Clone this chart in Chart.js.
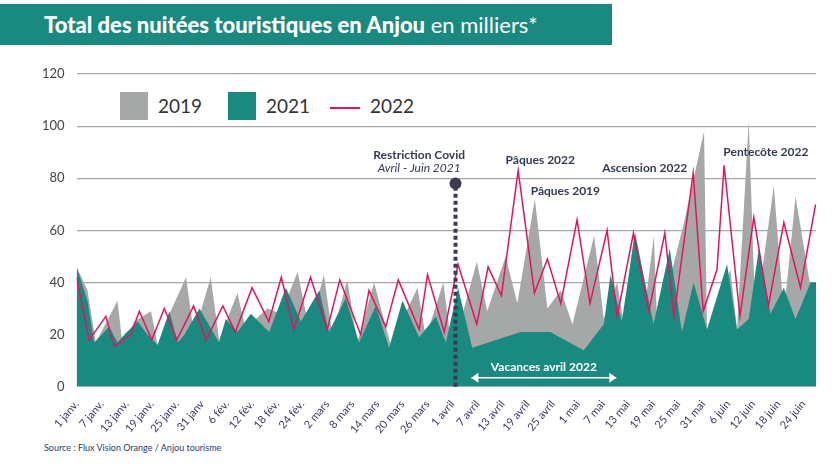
<!DOCTYPE html>
<html>
<head>
<meta charset="utf-8">
<script src="https://cdn.jsdelivr.net/npm/chart.js@4.4.1/dist/chart.umd.min.js"></script>
<style>
  body { margin: 0; width: 834px; height: 467px; background: #fff; font-family: Lato, sans-serif; overflow: hidden; position: relative; }
  #title { position: absolute; left: 0; top: 4px; width: 612px; height: 41px; background: #1a8a80; color: #fff; font-size: 22px; line-height: 41px; padding-left: 44px; box-sizing: border-box; }
  #title b { font-weight: 900; }
  #source { position: absolute; left: 44px; top: 442px; font-size: 9px; color: #2d3a6a; }
  #legend { position: absolute; left: 120px; top: 92px; font-size: 19px; color: #333; }
  .item { position: absolute; top: 0; white-space: nowrap; line-height: 28px; }
  .sw { display: inline-block; width: 28px; height: 28px; vertical-align: top; margin-right: 10px; }
  .ln { display: inline-block; width: 30px; height: 2px; background: #e5135e; vertical-align: middle; margin-right: 10px; }
  canvas { position: absolute; left: 0; top: 0; }
</style>
</head>
<body>
<div id="title"><b>Total des nuitées touristiques en Anjou</b> en milliers*</div>
<div id="legend">
  <div class="item" style="left:0"><span class="sw" style="background:#a6a8a8"></span>2019</div>
  <div class="item" style="left:108px"><span class="sw" style="background:#1a8a80"></span>2021</div>
  <div class="item" style="left:210px"><span class="ln"></span>2022</div>
</div>
<div id="source">Source : Flux Vision Orange / Anjou tourisme</div>
<canvas id="chart" width="834" height="467"></canvas>
<script>
// tick labels, one every 6 days starting 1 janv.
const tickLabels = ['1 janv.', '7 janv.', '13 janv.', '19 janv.', '25 janv.', '31 janv', '6 fév.', '12 fév.', '18 fév.', '24 fév.',
  '2 mars', '8 mars', '14 mars', '20 mars', '26 mars', '1 avril', '7 avril', '13 avril', '19 avril', '25 avril',
  '1 mai', '7 mai', '13 mai', '19 mai', '25 mai', '31 mai', '6 juin', '12 juin', '18 juin', '24 juin'];

// day offsets (from 1 janv.) and values
const days2019 = [0, 2.6, 4.6, 9.8, 11, 13.8, 17.8, 19.4, 21.4, 26.2, 28.1, 32.1, 34.1, 38.5, 41.3, 42.9, 45.7, 48.9, 52.9, 55.7,
  59.2, 61.2, 64.8, 67.2, 71.2, 75.2, 81.6, 83.6, 87.8, 89.6, 92.4, 95.8, 98.3, 102.7, 105.5, 109.7, 112.7, 115.9, 118.7, 123.9,
  126.2, 129.4, 130.9, 133.4, 136, 138.2, 139, 145.4, 150.2, 150.9, 156.5, 158.1, 160.9, 162.5, 166.9, 169.3, 172.1, 175.5, 177];
const vals2019 = [46, 37, 17, 33, 16, 25, 29, 16, 25, 42, 20, 42, 18, 36, 16, 26, 30, 28, 44, 22,
  43, 20, 41, 17, 40, 16, 38, 19, 40, 17, 28, 48, 29, 50, 32, 72, 30, 37, 24, 58,
  26, 40, 25, 58, 30, 58, 22, 63, 98, 22, 45, 22, 102, 26, 77, 28, 73, 40, 40];

const days2021 = [0, 2.6, 4.2, 7.8, 9.8, 11.4, 14.6, 17, 19.4, 22.2, 24.2, 25.8, 29.4, 34.1, 35.7, 38.5, 41.7, 46.1, 50.1, 53.7,
  58.1, 60.4, 64.4, 67.6, 71.6, 74.8, 78, 82, 86, 88.4, 91.3, 94.7, 106.3, 113.4, 121.4, 126.2, 127.8, 130.5, 133.7, 138.1,
  142, 144.9, 147.7, 150.9, 155.7, 158.1, 160.9, 163.3, 166.1, 169.3, 172.1, 175.7, 177];
const vals2021 = [46, 33, 17, 23, 17, 20, 25, 20, 16, 29, 17, 20, 30, 17, 26, 21, 28, 21, 38, 25,
  37, 21, 34, 17, 31, 15, 33, 19, 27, 17, 38, 15, 21, 21, 14, 24, 43, 25, 59, 24,
  53, 21, 40, 22, 47, 22, 26, 53, 28, 38, 26, 40, 40];

const days2022 = [0, 3, 7, 9, 13, 15, 18, 21, 24, 28, 31, 35, 38, 42, 46, 49, 52, 56, 60, 63,
  68, 70, 74, 77, 82, 84, 88, 91.3, 95.8, 98.5, 101.7, 105.7, 109.6, 112.7, 115.9, 119.8, 122.9, 127, 129.4, 133.3,
  137, 140.8, 143, 147.6, 150, 153.3, 155, 158.8, 162.1, 165.6, 169.3, 173.3, 176.9];
const vals2022 = [42, 18, 27, 15.5, 20, 29, 18, 30, 18, 31, 18, 31, 21, 38, 25, 42, 22, 42, 22, 41,
  20, 37, 23, 41, 22, 43, 21, 47, 24, 46, 35, 83, 36, 49, 32, 64, 32, 60, 27, 59,
  29, 59, 27, 82, 29, 45, 85, 27, 65, 31, 63, 38, 70];

const yTicks = [0, 20, 40, 60, 80, 100, 120];

function pts(days, vals) {
  return days.map((d, i) => ({ x: d, y: vals[i] }));
}

// annotations drawn at data positions
const annotations = {
  id: 'annotations',
  afterDatasetsDraw(chart) {
    const { ctx, scales: { x, y } } = chart;
    ctx.save();
    // covid restriction marker
    const cx = x.getPixelForValue(90.7);
    ctx.strokeStyle = '#3b3b55';
    ctx.lineWidth = 4;
    ctx.setLineDash([4, 3]);
    ctx.beginPath();
    ctx.moveTo(cx, y.getPixelForValue(0));
    ctx.lineTo(cx, y.getPixelForValue(77));
    ctx.stroke();
    ctx.setLineDash([]);
    ctx.fillStyle = '#3b3b55';
    ctx.beginPath();
    ctx.arc(cx, y.getPixelForValue(78), 6, 0, Math.PI * 2);
    ctx.fill();

    ctx.textAlign = 'center';
    ctx.textBaseline = 'middle';
    ctx.fillStyle = '#333a55';
    ctx.font = 'bold 12px Lato';
    ctx.fillText('Restriction Covid', x.getPixelForValue(82), y.getPixelForValue(89));
    ctx.font = 'italic 12px Lato';
    ctx.fillText('Avril - Juin 2021', x.getPixelForValue(82), y.getPixelForValue(84));
    ctx.font = 'bold 12px Lato';
    ctx.fillText('Pâques 2022', x.getPixelForValue(111), y.getPixelForValue(87));
    ctx.fillText('Pâques 2019', x.getPixelForValue(117), y.getPixelForValue(75));
    ctx.fillText('Ascension 2022', x.getPixelForValue(136), y.getPixelForValue(84));
    ctx.fillText('Pentecôte 2022', x.getPixelForValue(165), y.getPixelForValue(90));

    // vacances arrow
    const ay = y.getPixelForValue(3.5);
    const ax1 = x.getPixelForValue(94.5), ax2 = x.getPixelForValue(129.2);
    ctx.strokeStyle = '#fff';
    ctx.fillStyle = '#fff';
    ctx.lineWidth = 1.5;
    ctx.beginPath();
    ctx.moveTo(ax1, ay); ctx.lineTo(ax2, ay);
    ctx.stroke();
    ctx.beginPath();
    ctx.moveTo(ax1, ay); ctx.lineTo(ax1 + 7, ay - 5); ctx.lineTo(ax1 + 7, ay + 5); ctx.fill();
    ctx.beginPath();
    ctx.moveTo(ax2, ay); ctx.lineTo(ax2 - 7, ay - 5); ctx.lineTo(ax2 - 7, ay + 5); ctx.fill();
    ctx.font = 'bold 12px Lato';
    ctx.fillText('Vacances avril 2022', (ax1 + ax2) / 2, y.getPixelForValue(7.5));
    ctx.restore();
  }
};

new Chart(document.getElementById('chart'), {
  type: 'line',
  data: {
    datasets: [
      { label: '2022', data: pts(days2022, vals2022), borderColor: '#e5135e', borderWidth: 1.5, fill: false, order: 0 },
      { label: '2021', data: pts(days2021, vals2021), backgroundColor: '#1a8a80', borderWidth: 0, fill: 'origin', order: 1 },
      { label: '2019', data: pts(days2019, vals2019), backgroundColor: '#a6a8a8', borderWidth: 0, fill: 'origin', order: 2 }
    ]
  },
  options: {
    responsive: false,
    animation: false,
    layout: { padding: { left: 30, right: 18, top: 74, bottom: 28 } },
    elements: { point: { radius: 0 }, line: { tension: 0 } },
    plugins: { legend: { display: false }, tooltip: { enabled: false } },
    scales: {
      x: {
        type: 'linear', min: 0, max: 177,
        grid: { display: false },
        border: { display: false },
        afterBuildTicks: (s) => { s.ticks = tickLabels.map((_, i) => ({ value: i * 6 })); },
        ticks: {
          autoSkip: false, maxRotation: 50, minRotation: 50, color: '#3b3b60', font: { family: 'Lato', size: 11 },
          callback: (v) => tickLabels[Math.round(v / 6)]
        }
      },
      y: {
        min: 0, max: 120, z: 1,
        afterBuildTicks: (s) => { s.ticks = yTicks.map(v => ({ value: v })); },
        border: { display: false },
        grid: {
          color: (c) => c.tick.value === 0 ? 'rgba(0,0,0,0)' : (c.tick.value === 20 ? '#ffffff' : '#a8a8a8'),
          lineWidth: 1.2, drawTicks: false
        },
        ticks: { color: '#444', padding: 12, font: { family: 'Lato', size: 13 } }
      }
    }
  },
  plugins: [annotations]
});
</script>
</body>
</html>
